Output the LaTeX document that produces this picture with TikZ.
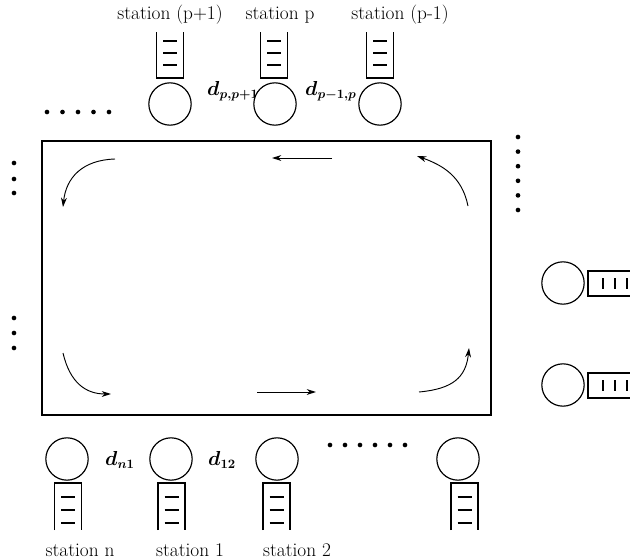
\documentclass[tikz,border=0pt]{standalone}
\usetikzlibrary{arrows.meta}
\begin{document}
\begin{tikzpicture}[x=0.03cm,y=-0.03cm,
  srv/.style={circle,draw,line width=1pt,minimum size=1.27cm,inner sep=0pt,fill=white},
  lbl/.style={font=\fontsize{16.5}{19}\selectfont,inner sep=0pt},
  dl/.style={font=\fontsize{16}{19}\selectfont\boldmath,inner sep=0pt,anchor=base west},
  flow/.style={line width=0.8pt,-{Stealth[length=8pt,width=5pt]}},
  qline/.style={line width=1pt},
  qbar/.style={line width=2.4pt},
]
\clip (0,0) rectangle (630,560);
\fill[white] (0,0) rectangle (630,560);

% ring
\draw[line width=1pt] (42,141) rectangle (491,415);
\draw[flow] (332,158) -- (272,158);
\draw[flow] (115,159) .. controls (82,160) and (66,178) .. (63,207);
\draw[flow] (468,206) .. controls (462,176) and (442,165) .. (417,156);
\draw[flow] (63,353) .. controls (70,383) and (86,394) .. (111,394);
\draw[flow] (257,392) -- (316,392);
\draw[flow] (419,392) .. controls (452,389) and (466,378) .. (469,348);

% top labels
\node[lbl] (tl1) at (170,15) {station (p+1)};
\node[lbl] (tl2) at (280,15) {station p};
\node[lbl] (tl3) at (400,15) {station (p-1)};

% top queues (open at top)
\foreach \cx in {170,274,380}{
  \draw[qline] (\cx-13.5,32) -- (\cx-13.5,78) -- (\cx+13.5,78) -- (\cx+13.5,32);
  \foreach \yy in {41,53,65}{\draw[qbar] (\cx-7,\yy) -- (\cx+7,\yy);}
}
% top distance labels and servers
\node[dl] (d1) at (207,95) {$d_{p,p+1}$};
\node[dl] (d2) at (305,95) {$d_{p-1,p}$};
\node[srv] (s1) at (170,104) {};
\node[srv] (s2) at (275,104) {};
\node[srv] (s3) at (380,104) {};
\foreach \xx in {47,62.5,78,93.5,109}{\fill (\xx,112) circle (0.07cm);}

% left dots
\foreach \yy in {163,179,193,318,333,348}{\fill (14,\yy) circle (0.07cm);}
% right dots
\foreach \yy in {137,151.6,166.2,180.8,195.4,210}{\fill (518,\yy) circle (0.07cm);}

% right servers and queues
\foreach \cy in {283.5,385.5}{
  \draw[qline] (640,\cy-12.5) -- (588,\cy-12.5) -- (588,\cy+12.5) -- (640,\cy+12.5);
  \foreach \xx in {603,615,627}{\draw[qbar] (\xx,\cy-5.5) -- (\xx,\cy+5.5);}
}
\node[srv] (r1) at (563,283) {};
\node[srv] (r2) at (563,385) {};

% bottom servers
\node[srv] (b1) at (67,459) {};
\node[srv] (b2) at (171,459) {};
\node[srv] (b3) at (277,459) {};
\node[srv] (b4) at (458,459) {};
\node[dl] (d3) at (105,465) {$d_{n1}$};
\node[dl] (d4) at (208,465) {$d_{12}$};
\foreach \xx in {330,345,360,375,390,405}{\fill (\xx,445) circle (0.07cm);}

% bottom queues (open at bottom)
\foreach \cx in {68,171.5,276.5,464.5}{
  \draw[qline] (\cx-13.5,530) -- (\cx-13.5,483) -- (\cx+13.5,483) -- (\cx+13.5,530);
  \foreach \yy in {497,510,523}{\draw[qbar] (\cx-7,\yy) -- (\cx+7,\yy);}
}

% bottom labels
\node[lbl] (bl1) at (80,550) {station n};
\node[lbl] (bl2) at (190,550) {station 1};
\node[lbl] (bl3) at (297,550) {station 2};
\end{tikzpicture}
\end{document}
